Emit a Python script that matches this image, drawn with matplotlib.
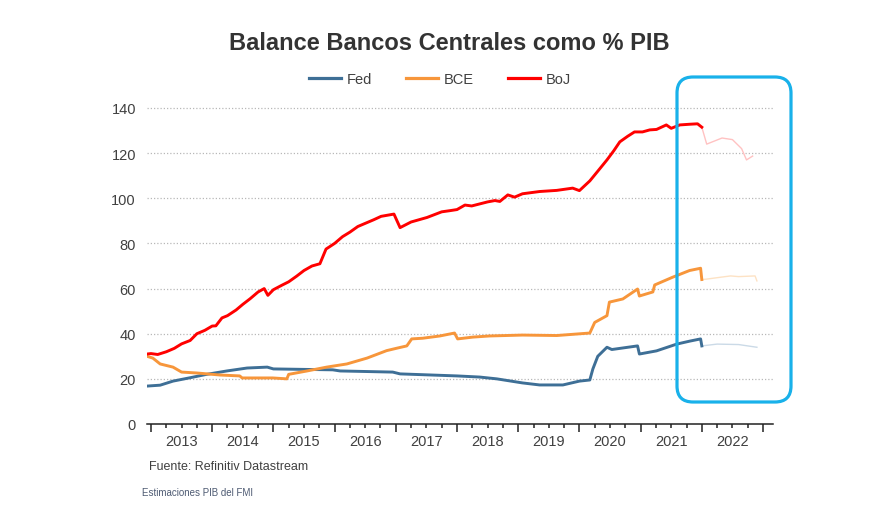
import matplotlib
matplotlib.use("Agg")
import matplotlib.pyplot as plt
from matplotlib.patches import FancyBboxPatch
from matplotlib.lines import Line2D

# ---------------- data (decimal years, % of GDP) ----------------
boj_t = [2012.935, 2013.0, 2013.11, 2013.25, 2013.38, 2013.5, 2013.64, 2013.75, 2013.88, 2014.0,
         2014.06, 2014.16, 2014.25, 2014.39, 2014.5, 2014.62, 2014.75, 2014.85, 2014.91, 2015.0,
         2015.14, 2015.25, 2015.38, 2015.5, 2015.63, 2015.76, 2015.86, 2016.0, 2016.13, 2016.25,
         2016.38, 2016.51, 2016.64, 2016.76, 2016.97, 2017.07, 2017.25, 2017.51, 2017.75, 2017.88,
         2018.0, 2018.13, 2018.24, 2018.37, 2018.5, 2018.62, 2018.7, 2018.83, 2018.94, 2019.07,
         2019.35, 2019.63, 2019.89, 2020.0, 2020.17, 2020.3, 2020.45, 2020.56, 2020.66, 2020.79,
         2020.9, 2021.03, 2021.15, 2021.26, 2021.42, 2021.5, 2021.64, 2021.8, 2021.93, 2022.0]
boj_v = [31, 31.2, 30.8, 32, 33.5, 35.5, 37, 40, 41.5, 43.4,
         43.5, 47, 48, 50.5, 53, 55.5, 58.5, 60, 57, 59.5,
         61.5, 63, 65.5, 68, 70, 71, 77.5, 80, 83, 85,
         87.5, 89, 90.5, 92, 93, 87, 89.5, 91.5, 94, 94.5,
         95, 97, 96.6, 97.5, 98.4, 99, 98.6, 101.5, 100.5, 102,
         103, 103.5, 104.5, 103.4, 107.7, 112, 117, 121, 125, 127.5,
         129.4, 129.4, 130.3, 130.5, 132.5, 131, 132.5, 132.8, 133, 131.5]
boj_proj_t = [2022.0, 2022.08, 2022.33, 2022.5, 2022.65, 2022.73, 2022.83]
boj_proj_v = [131.5, 124, 126.7, 126, 122, 117, 118.7]

bce_t = [2012.935, 2013.03, 2013.15, 2013.36, 2013.5, 2013.75, 2014.13, 2014.45, 2014.49, 2014.99,
         2015.22, 2015.25, 2015.55, 2015.87, 2016.2, 2016.53, 2016.85, 2017.02, 2017.18, 2017.26,
         2017.44, 2017.72, 2017.96, 2018.01, 2018.26, 2018.53, 2019.07, 2019.63, 2020.17, 2020.25,
         2020.45, 2020.49, 2020.71, 2020.95, 2020.98, 2021.2, 2021.23, 2021.52, 2021.8, 2021.98, 2022.0]
bce_v = [30, 29.2, 26.6, 25.2, 23, 22.6, 21.7, 21.3, 20.4, 20.4,
         20, 22, 23.5, 25.2, 26.6, 29.2, 32.5, 33.6, 34.6, 37.7,
         38, 39, 40.3, 37.7, 38.5, 39, 39.4, 39.2, 40.3, 45,
         48, 54, 55.4, 59.8, 56.7, 58.5, 61.6, 65, 68, 69, 64]
bce_proj_t = [2022.0, 2022.08, 2022.3, 2022.47, 2022.6, 2022.87, 2022.9]
bce_proj_v = [64, 64.2, 65, 65.6, 65.3, 65.6, 63.4]

fed_t = [2012.935, 2013.15, 2013.36, 2013.64, 2013.91, 2014.24, 2014.57, 2014.9, 2015.0, 2015.97,
         2016.09, 2016.95, 2017.07, 2018.0, 2018.37, 2018.65, 2019.07, 2019.35, 2019.73, 2020.0,
         2020.17, 2020.22, 2020.3, 2020.45, 2020.53, 2020.95, 2020.98, 2021.26, 2021.59, 2021.8,
         2021.98, 2022.0]
fed_v = [16.8, 17.2, 19, 20.5, 22, 23.5, 24.8, 25.2, 24.4, 24,
         23.5, 23, 22.2, 21.3, 20.8, 20, 18.2, 17.3, 17.3, 19,
         19.5, 24.4, 30, 34, 33, 34.6, 31, 32.4, 35.4, 36.7,
         37.7, 34.6]
fed_proj_t = [2022.0, 2022.25, 2022.6, 2022.9]
fed_proj_v = [34.6, 35.4, 35.2, 34]

years = [2013, 2014, 2015, 2016, 2017, 2018, 2019, 2020, 2021, 2022]
yticks = [0, 20, 40, 60, 80, 100, 120, 140]

title = "Balance Bancos Centrales como % PIB"
series_names = ["Fed", "BCE", "BoJ"]

# ---------------- style ----------------
C_FED, C_BCE, C_BOJ = "#3e6f96", "#f7963b", "#ff0000"
C_FED_L, C_BCE_L, C_BOJ_L = "#cbdae7", "#fde2c4", "#ffc2c2"
TXT = "#404040"

plt.rcParams['font.family'] = ['Liberation Sans', 'DejaVu Sans']

W, H = 889, 510
fig = plt.figure(figsize=(W / 100, H / 100), dpi=100)
fig.patch.set_facecolor("white")

left, right, bottom, top = 147, 773, 425, 109
ax = fig.add_axes([left / W, 1 - bottom / H, (right - left) / W, (bottom - top) / H])
ax.set_xlim(2012.935, 2023.163)
ax.set_ylim(0, 140)

# grid lines
ax.hlines(yticks[1:], 0.0, 1.0, transform=ax.get_yaxis_transform(),
          colors="#b8b8b8", linewidth=0.9, linestyles=(0, (1, 1.6)), clip_on=False, zorder=1)

lw = 2.1
ax.plot(fed_t, fed_v, color=C_FED, lw=lw, zorder=3, solid_joinstyle='round')
ax.plot(bce_t, bce_v, color=C_BCE, lw=lw, zorder=3, solid_joinstyle='round')
ax.plot(boj_t, boj_v, color=C_BOJ, lw=lw, zorder=4, solid_joinstyle='round')
ax.plot(fed_proj_t, fed_proj_v, color=C_FED_L, lw=1.0, zorder=2)
ax.plot(bce_proj_t, bce_proj_v, color=C_BCE_L, lw=1.0, zorder=2)
ax.plot(boj_proj_t, boj_proj_v, color=C_BOJ_L, lw=1.0, zorder=2)

for s in ["top", "right", "left"]:
    ax.spines[s].set_visible(False)
ax.spines["bottom"].set_color("#222222")
ax.spines["bottom"].set_linewidth(1.1)

ax.set_yticks(yticks)
ax.set_yticklabels([str(v) for v in yticks])
ax.tick_params(axis='y', length=0, pad=8, labelsize=10.5, labelcolor=TXT)

major = years + [years[-1] + 1]
ax.set_xticks(major)
ax.set_xticklabels([])
ax.set_xticks([y + q / 4 for y in major[:-1] for q in (1, 2, 3)], minor=True)
ax.tick_params(axis='x', which='major', length=5.5, width=1.1, color="#222222", direction='out')
ax.tick_params(axis='x', which='minor', length=3, width=1.1, color="#222222", direction='out')

for y in years:
    ax.text(y + 0.5, -17 / (bottom - top), str(y), transform=ax.get_xaxis_transform(),
            ha='center', va='center', fontsize=10.5, color=TXT)

# title
fig.text(449 / W, 1 - 43 / H, title, ha='center', va='center', fontsize=17,
         fontweight='bold', color="#333333")

# legend
handles = [Line2D([], [], color=c, lw=2.3) for c in (C_FED, C_BCE, C_BOJ)]
leg = fig.legend(handles, series_names, loc='center', bbox_to_anchor=(440 / W, 1 - 80 / H),
                 ncol=3, frameon=False, fontsize=10.5, handlelength=2.2, handletextpad=0.4,
                 columnspacing=2.3, borderaxespad=0)
for t in leg.get_texts():
    t.set_color(TXT)

# sources
fig.text(149 / W, 1 - 467 / H, "Fuente: Refinitiv Datastream", ha='left', va='center',
         fontsize=9, color=TXT)
fig.text(142 / W, 1 - 493 / H, "Estimaciones PIB del FMI", ha='left', va='center',
         fontsize=7, color="#4e5b73")

# highlight box
box = FancyBboxPatch((677 / 100, (H - 403) / 100), (791 - 677) / 100, (403 - 78) / 100,
                     boxstyle="round,pad=0,rounding_size=0.16", transform=fig.dpi_scale_trans,
                     fill=False, edgecolor="#19b1ea", linewidth=2.3, zorder=10)
fig.patches.append(box)

fig.savefig("out.png", dpi=100, facecolor="white")
